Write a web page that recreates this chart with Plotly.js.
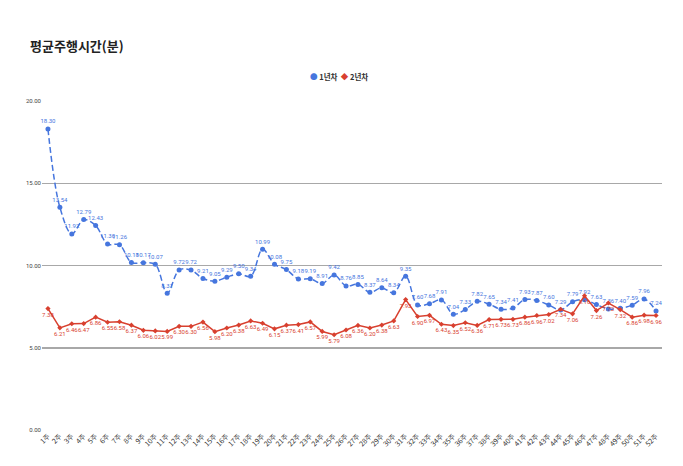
<!DOCTYPE html>
<html>
<head>
<meta charset="utf-8">
<script src="https://cdn.plot.ly/plotly-3.0.1.min.js"></script>
<style>
  body { margin: 0; background: #fff; }
  #graph { width: 683px; height: 466px; }
</style>
</head>
<body>
<div id="graph"></div>
<script>
// weeks 1..52
const weeks = [];
for (let i = 1; i <= 52; i++) weeks.push(i + '주');

const seriesNames = ['1년차', '2년차'];
const year1 = [18.30, 13.54, 11.92, 12.79, 12.43, 11.30, 11.26, 10.18, 10.17, 10.07,
    8.31, 9.72, 9.72, 9.21, 9.05, 9.29, 9.50, 9.34, 10.99, 10.08,
    9.75, 9.18, 9.19, 8.91, 9.42, 8.76, 8.85, 8.37, 8.64, 8.34,
    9.35, 7.60, 7.68, 7.91, 7.04, 7.33, 7.82, 7.65, 7.34, 7.41,
    7.93, 7.87, 7.60, 7.29, 7.79, 7.92, 7.63, 7.36, 7.40, 7.59,
    7.96, 7.24];
const year2 = [7.38, 6.21, 6.46, 6.47, 6.86, 6.55, 6.58, 6.37, 6.06, 6.02,
    5.99, 6.30, 6.30, 6.56, 5.98, 6.20, 6.38, 6.63, 6.49, 6.15,
    6.37, 6.41, 6.57, 5.99, 5.79, 6.08, 6.36, 6.20, 6.38, 6.63,
    7.93, 6.90, 6.97, 6.43, 6.35, 6.52, 6.36, 6.71, 6.73, 6.73,
    6.86, 6.96, 7.02, 7.34, 7.06, 8.16, 7.26, 7.72, 7.32, 6.86,
    6.98, 6.96];

const blue = '#4676de';
const red = '#d8402f';

let data = [{
    x: weeks, y: year1,
    name: seriesNames[0],
    type: 'scatter',
    mode: 'lines+markers+text',
    line: {color: blue, width: 1.5, dash: '6px,3px', shape: 'spline'},
    marker: {color: blue, size: 5, symbol: 'circle'},
    text: year1.map(v => v.toFixed(2)),
    textposition: 'top center',
    textfont: {color: blue, size: 6, family: 'Roboto, sans-serif'},
    cliponaxis: false
}, {
    x: weeks, y: year2,
    name: seriesNames[1],
    type: 'scatter',
    mode: 'lines+markers+text',
    line: {color: red, width: 1.5},
    marker: {color: red, size: 4, symbol: 'diamond'},
    text: year2.map(v => v.toFixed(2)),
    textposition: 'bottom center',
    textfont: {color: red, size: 6, family: 'Roboto, sans-serif'},
    cliponaxis: false
}];

// compact legend (the plotly legend spaces entries too far apart)
let legendText = '<span style="color:' + blue + '">●</span> ' + seriesNames[0] +
    '  <span style="color:' + red + '">◆</span> ' + seriesNames[1];

let layout = {
    width: 683, height: 466,
    margin: {l: 42, r: 21, t: 101, b: 36},
    paper_bgcolor: '#fff', plot_bgcolor: '#fff',
    font: {family: 'Roboto, "Noto Sans CJK KR", sans-serif', color: '#333'},
    showlegend: false,
    title: {
        text: '<b>평균주행시간(분)</b>',
        x: 0.044, xanchor: 'left', y: 0.9, yanchor: 'middle',
        font: {size: 13, color: '#222', family: '"Noto Sans CJK KR", sans-serif'}
    },
    annotations: [{
        xref: 'paper', yref: 'paper', x: 0.479, y: 1.073,
        xanchor: 'center', yanchor: 'middle', showarrow: false,
        text: '<b>' + legendText + '</b>',
        font: {size: 7.5, color: '#333', family: '"Noto Sans CJK KR", sans-serif'}
    }],
    xaxis: {
        type: 'category',
        range: [-0.5, 51.5],
        tickangle: -45,
        tickfont: {size: 7, color: '#333', family: '"Noto Sans CJK KR", sans-serif'},
        showgrid: false, zeroline: false, showline: false,
        ticks: ''
    },
    yaxis: {
        range: [0, 20],
        tickvals: [0, 5, 10, 15, 20],
        tickformat: '.2f',
        tickfont: {size: 6, color: '#444'},
        gridcolor: '#a8a8a8', gridwidth: 1.5,
        zeroline: false, showline: false,
        fixedrange: true
    }
};

Plotly.newPlot('graph', data, layout, {displayModeBar: false, staticPlot: true});
</script>
</body>
</html>
